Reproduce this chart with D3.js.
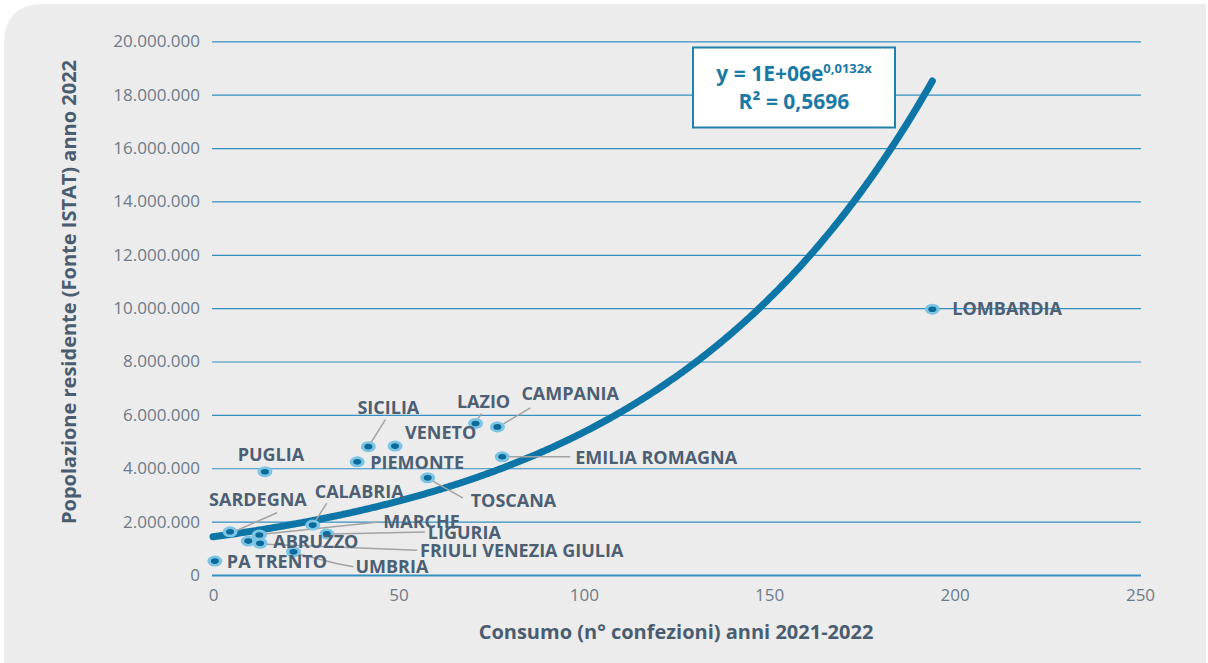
<!DOCTYPE html>
<html>
<head>
<meta charset="utf-8">
<script src="https://cdn.jsdelivr.net/npm/d3@7"></script>
<style>
body { margin: 0; background: #fff; }
text { font-family: "Open Sans", sans-serif; }
</style>
</head>
<body>
<script>
// data
const regioni = ["LOMBARDIA", "CAMPANIA", "LAZIO", "VENETO", "SICILIA", "PIEMONTE",
    "EMILIA ROMAGNA", "PUGLIA", "TOSCANA", "SARDEGNA", "CALABRIA", "MARCHE",
    "LIGURIA", "ABRUZZO", "FRIULI VENEZIA GIULIA", "UMBRIA", "PA TRENTO"]
const consumo = [194, 76.7, 70.8, 49.1, 41.9, 38.9, 78.0, 14.0, 57.9, 4.6, 26.9, 12.5,
    30.7, 9.5, 12.7, 21.7, 0.5]
const popolazione = [9960000, 5550000, 5680000, 4830000, 4810000, 4240000, 4430000,
    3870000, 3640000, 1620000, 1870000, 1500000, 1540000, 1270000, 1190000, 870000, 520000]

const xTicks = [0, 50, 100, 150, 200, 250]
const yTicks = [0, 2000000, 4000000, 6000000, 8000000, 10000000, 12000000,
    14000000, 16000000, 18000000, 20000000]

// exponential trendline shown in the chart
const trendA = 1430000
const trendB = 0.0132
const trendMaxX = 194

const width = 1208
const height = 663

// label placement, pixel offsets from each point
const labelPos = {
    "LOMBARDIA": {dx: 20, dy: 6},
    "CAMPANIA": {dx: 24, dy: -27, line: [[6, -3], [33, -19]]},
    "LAZIO": {dx: 8, dy: -15, anchor: "middle", line: [[2, -4], [6, -10]]},
    "VENETO": {dx: 10, dy: -7},
    "SICILIA": {dx: 20, dy: -33, anchor: "middle", line: [[2, -3], [17, -27]]},
    "PIEMONTE": {dx: 13, dy: 7},
    "EMILIA ROMAGNA": {dx: 73, dy: 7, line: [[4, 0], [68, 0]]},
    "PUGLIA": {dx: 6, dy: -11, anchor: "middle"},
    "TOSCANA": {dx: 43, dy: 29, line: [[3, 2], [35, 20]]},
    "SARDEGNA": {dx: -21, dy: -26, line: [[6, -1], [47, -19]]},
    "CALABRIA": {dx: 2, dy: -27, line: [[2, -3], [14, -22]]},
    "MARCHE": {dx: 124, dy: -7, line: [[5, -1], [120, -13]]},
    "LIGURIA": {dx: 101, dy: 5, line: [[5, 0], [98, -2]]},
    "ABRUZZO": {dx: 25, dy: 7},
    "FRIULI VENEZIA GIULIA": {dx: 160, dy: 14, line: [[5, 1], [157, 7]]},
    "UMBRIA": {dx: 62, dy: 21, line: [[4, 2], [44, 12], [60, 15]]},
    "PA TRENTO": {dx: 12, dy: 7}
}

const it = d3.formatLocale({decimal: ",", thousands: ".", grouping: [3], currency: ["", ""]})

var svg = d3.select("body")
    .append("svg")
    .attr("width", width)
    .attr("height", height)

// grey panel with rounded top-left corner
svg.append("path")
    .attr("d", "M4,44 Q4,4 44,4 L1206,4 L1206,663 L4,663 Z")
    .attr("fill", "#ececec")

var x = d3.scaleLinear().domain([0, 250]).range([213, 1140])
var y = d3.scaleLinear().domain([0, 20000000]).range([575, 41.3])

// y gridlines + labels
var yAxis = svg.append("g")
    .attr("transform", "translate(212,0)")
    .call(d3.axisLeft(y)
        .tickValues(yTicks)
        .tickSize(-929)
        .tickPadding(12)
        .tickFormat(d => d === 0 ? "0" : it.format(",")(d)))
yAxis.select(".domain").remove()
yAxis.selectAll(".tick line")
    .attr("stroke", "#3590c0")
    .attr("stroke-width", d => d === 0 ? 2 : 1.2)
yAxis.selectAll(".tick text")
    .attr("fill", "#6c7b89")
    .style("font-size", "17px")

// x labels
var xAxis = svg.append("g")
    .attr("transform", "translate(0,575)")
    .call(d3.axisBottom(x)
        .tickValues(xTicks)
        .tickSize(0)
        .tickPadding(14))
xAxis.select(".domain").remove()
xAxis.selectAll(".tick text")
    .attr("fill", "#6c7b89")
    .style("font-size", "17px")

// axis titles
svg.append("text")
    .attr("x", 676)
    .attr("y", 639)
    .attr("text-anchor", "middle")
    .attr("fill", "#4a5d70")
    .style("font-size", "20px")
    .style("font-weight", "bold")
    .text("Consumo (n° confezioni) anni 2021-2022")

svg.append("text")
    .attr("transform", "translate(76,292) rotate(-90)")
    .attr("text-anchor", "middle")
    .attr("fill", "#4a5d70")
    .style("font-size", "20px")
    .style("font-weight", "bold")
    .text("Popolazione residente (Fonte ISTAT) anno 2022")

// trendline
var trendX = d3.range(0, trendMaxX + 0.5, 0.5)
svg.append("path")
    .datum(trendX)
    .attr("fill", "none")
    .attr("stroke", "#0e76a6")
    .attr("stroke-width", 7)
    .attr("stroke-linecap", "round")
    .attr("d", d3.line()
        .x(d => x(d))
        .y(d => y(trendA * Math.exp(trendB * d))))

var pts = regioni.map((r, i) => ({name: r, cx: x(consumo[i]), cy: y(popolazione[i])}))

// leader lines
svg.append("g")
    .selectAll("polyline")
    .data(pts.filter(p => labelPos[p.name].line))
    .enter()
    .append("polyline")
    .attr("points", p => labelPos[p.name].line.map(o => [p.cx + o[0], p.cy + o[1]].join(",")).join(" "))
    .attr("fill", "none")
    .attr("stroke", "#a3a3a3")
    .attr("stroke-width", 1.5)

// markers
var mk = svg.append("g")
    .selectAll("g")
    .data(pts)
    .enter()
    .append("g")
    .attr("transform", p => `translate(${p.cx},${p.cy})`)
mk.append("ellipse")
    .attr("rx", 7.5)
    .attr("ry", 5.5)
    .attr("fill", "#7cc4e4")
mk.append("ellipse")
    .attr("rx", 4)
    .attr("ry", 2.8)
    .attr("fill", "#0b6a97")

// point labels
svg.append("g")
    .selectAll("text")
    .data(pts)
    .enter()
    .append("text")
    .attr("x", p => p.cx + labelPos[p.name].dx)
    .attr("y", p => p.cy + labelPos[p.name].dy)
    .attr("text-anchor", p => labelPos[p.name].anchor || "start")
    .attr("fill", "#4c5f73")
    .style("font-size", "18px")
    .style("font-weight", "bold")
    .text(p => p.name)

// equation box
var box = svg.append("g")
box.append("rect")
    .attr("x", 693)
    .attr("y", 47.5)
    .attr("width", 202)
    .attr("height", 80)
    .attr("fill", "#fff")
    .attr("stroke", "#1f80a8")
    .attr("stroke-width", 2)
var eq = box.append("text")
    .attr("x", 794)
    .attr("y", 81)
    .attr("text-anchor", "middle")
    .attr("fill", "#1b7aa5")
    .style("font-size", "21px")
    .style("font-weight", "bold")
eq.append("tspan").text("y = 1E+06e")
eq.append("tspan")
    .attr("dy", -8)
    .style("font-size", "13px")
    .text("0,0132x")
box.append("text")
    .attr("x", 794)
    .attr("y", 109)
    .attr("text-anchor", "middle")
    .attr("fill", "#1b7aa5")
    .style("font-size", "21px")
    .style("font-weight", "bold")
    .text("R² = 0,5696")
</script>
</body>
</html>
